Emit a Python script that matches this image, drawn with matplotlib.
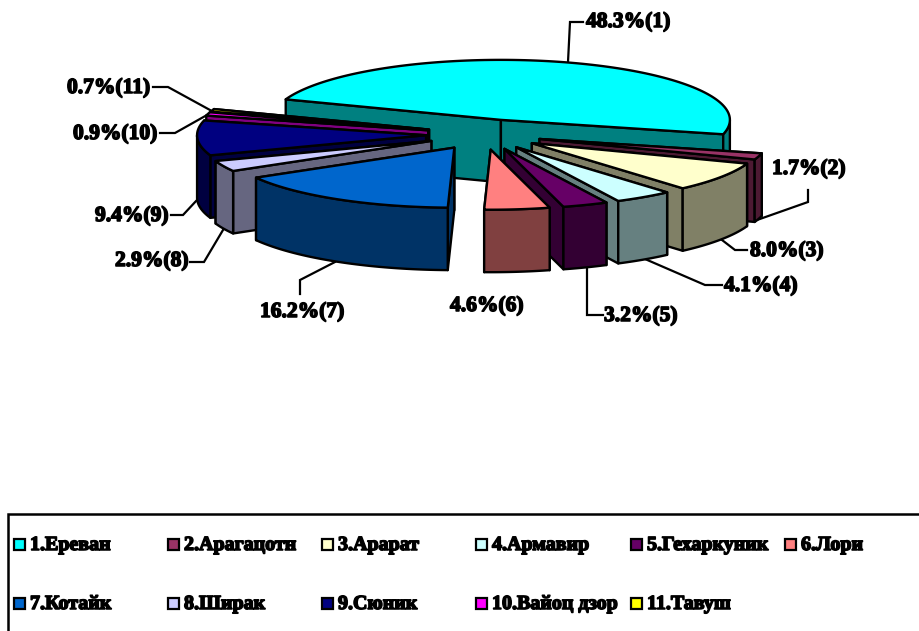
import numpy as np
import matplotlib
matplotlib.use("Agg")
import matplotlib.pyplot as plt
import matplotlib.patheffects as pe
from matplotlib.patches import Rectangle

regions = ["1.Ереван", "2.Арагацотн", "3.Арарат", "4.Армавир", "5.Гехаркуник", "6.Лори",
           "7.Котайк", "8.Ширак", "9.Сюник", "10.Вайоц дзор", "11.Тавуш"]
shares = [48.3, 1.7, 8.0, 4.1, 3.2, 4.6, 16.2, 2.9, 9.4, 0.9, 0.7]
top_colors = ["#00FFFF", "#993366", "#FFFFCC", "#CCFFFF", "#660066", "#FF8080",
              "#0066CC", "#CCCCFF", "#000080", "#FF00FF", "#FFFF00"]

# pie geometry (pixels)
CX, CY = 484, 134.5
RX, RY = 229, 60
EX, EY = 58, 15.3
DEPTH = 62.5
START = 160.0
LW = 1.7
FONT = "Liberation Serif"

fig = plt.figure(figsize=(9.2, 6.31), dpi=100)
ax = fig.add_axes([0, 0, 1, 1])
ax.set_xlim(0, 920)
ax.set_ylim(631, 0)
ax.axis("off")


def shade(c):
    r, g, b = matplotlib.colors.to_rgb(c)
    return (r / 2, g / 2, b / 2)


def face(xs, ys, color, z):
    ax.fill(xs, ys, facecolor=color, edgecolor="black", linewidth=LW, joinstyle="round", zorder=z)


# angular extents derived from the shares, clockwise from START
fr = np.array(shares) / sum(shares)
ends = np.cumsum(fr) * 360
starts = np.r_[0, ends[:-1]]
t0 = START - starts
t1 = START - ends
mid = (t0 + t1) / 2
order = np.argsort(-np.sin(np.radians(mid)))

for rank, i in enumerate(order):
    m = np.radians(mid[i])
    ax_, ay_ = CX + EX * np.cos(m), CY - EY * np.sin(m)
    ts = np.radians(np.linspace(t0[i], t1[i], 120))
    rx = ax_ + RX * np.cos(ts)
    ry = ay_ - RY * np.sin(ts)
    base = 10 + rank * 5

    # cut faces, far one first
    cuts = [(rx[0], ry[0]), (rx[-1], ry[-1])]
    cuts.sort(key=lambda p: p[1])
    for (px, py) in cuts:
        face([ax_, px, px, ax_], [ay_, py, py + DEPTH, ay_ + DEPTH], shade(top_colors[i]), base)
    # outer wall: front part of the rim
    front = np.sin(ts) < 0
    if front.any():
        fx, fy = rx[front], ry[front]
        face(np.r_[fx, fx[::-1]], np.r_[fy, fy[::-1] + DEPTH], shade(top_colors[i]), base + 1)
    # top
    face(np.r_[ax_, rx], np.r_[ay_, ry], top_colors[i], base + 2)

# data labels and leader lines
label_text = [f"{s:.1f}%({k + 1})" for k, s in enumerate(shares)]
label_xy = [(586, 22), (772, 169), (750, 251), (724, 286), (604, 316), (450, 306),
            (260, 312), (115, 261), (95, 216), (73, 134), (67, 88)]
leaders = [
    [(568, 62), (570, 22), (583, 22)],
    [(757, 220), (808, 202), (808, 190)],
    [(722, 240), (735, 250), (747, 250)],
    [(645, 259), (705, 285), (722, 285)],
    [(587, 268), (587, 315), (603, 315)],
    None,
    [(335, 262), (300, 280), (300, 294)],
    [(223, 230), (204, 262), (190, 262)],
    [(197, 200), (183, 215), (171, 215)],
    [(207, 115), (175, 133), (160, 133)],
    [(210, 110), (168, 87), (153, 87)],
]
stroke = [pe.withStroke(linewidth=1.1, foreground="black")]
for txt, (x, y), ld in zip(label_text, label_xy, leaders):
    ax.text(x, y, txt, fontfamily=FONT, fontweight="bold", fontsize=15.5, color="black",
            ha="left", va="center", path_effects=stroke, zorder=100)
    if ld:
        ax.plot([p[0] for p in ld], [p[1] for p in ld], color="black", lw=1.6, zorder=5,
                solid_joinstyle="miter")

# legend frame and entries
ax.add_patch(Rectangle((8, 514), 1000, 200, facecolor="white", edgecolor="black", linewidth=1.8, zorder=1))
col_x = [14, 168, 322, 476, 631, 785]
row_y = [544, 603]
for k, (name, col) in enumerate(zip(regions, top_colors)):
    r, c = divmod(k, 6)
    x, y = col_x[c], row_y[r]
    ax.add_patch(Rectangle((x, y - 5.5), 11, 11, facecolor=col, edgecolor="black", linewidth=1.6, zorder=50))
    ax.text(x + 16, y + 1, name, fontfamily=FONT, fontweight="bold", fontsize=14.4, color="black",
            ha="left", va="center", path_effects=stroke, zorder=100)

fig.savefig("out.png", dpi=100)
